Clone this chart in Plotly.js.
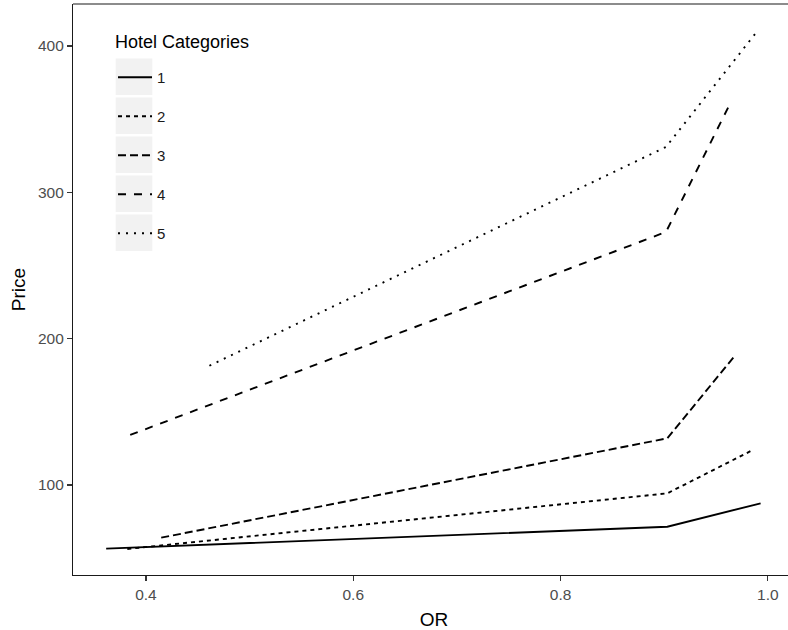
<!DOCTYPE html>
<html>
<head>
<meta charset="utf-8">
<script src="https://cdn.plot.ly/plotly-3.0.1.min.js"></script>
<style>
html,body{margin:0;padding:0;background:#fff;overflow:hidden;width:788px;height:630px;}
#wrap{width:788px;height:630px;overflow:hidden;}
#chart{width:795px;height:630px;}
</style>
</head>
<body>
<div id="wrap"><div id="chart"></div></div>
<script>
// Hotel categories (legend labels)
const categories = ["1", "2", "3", "4", "5"];
const legendTitle = "Hotel Categories";
// Occupancy rate (OR) values per category
const or1 = [0.3616, 0.903, 0.993];
const or2 = [0.382, 0.903, 0.984];
const or3 = [0.4147, 0.903, 0.968];
const or4 = [0.3848, 0.9017, 0.964];
const or5 = [0.4612, 0.9017, 0.990];
// Prices per category
const price1 = [56.5, 71.5, 87.5];
const price2 = [56.3, 94.3, 123.4];
const price3 = [64.0, 131.9, 188.2];
const price4 = [134.2, 272.9, 361.3];
const price5 = [181.5, 331.0, 410.3];
// Axis ticks
const xTicks = [0.4, 0.6, 0.8, 1.0];
const xTickLabels = ["0.4", "0.6", "0.8", "1.0"];
const yTicks = [100, 200, 300, 400];
const yTickLabels = ["100", "200", "300", "400"];

const xs = [or1, or2, or3, or4, or5];
const ys = [price1, price2, price3, price4, price5];
const dashes = ["solid", "4px,4px", "8px,4px", "8px,8px", "2px,6px"];

const traces = categories.map((c, i) => ({
  type: "scatter",
  mode: "lines",
  x: xs[i],
  y: ys[i],
  name: c,
  legendgroup: "g" + c,
  line: {color: "#000", width: 1.9, dash: dashes[i]},
  hoverinfo: "skip"
}));

// pixel -> paper helpers (plot area runs just past the right edge of the picture)
const FW = 795;
const L = 73, T = 4, W = FW - 73, H = 571;
const px = v => (v - L) / W;
const py = v => (T + H - v) / H;

const shapes = [
  {type: "line", xref: "paper", yref: "paper", x0: 0, x1: 1, y0: 1, y1: 1,
   line: {color: "#1a1a1a", width: 1.1}}
];
for (let i = 0; i < categories.length; i++) {
  const top = 58.5 + i * 39;
  shapes.push({
    type: "rect", xref: "paper", yref: "paper", layer: "below",
    x0: px(115.7), x1: px(152.3), y0: py(top + 36.5), y1: py(top),
    fillcolor: "#f2f2f2", line: {width: 0}
  });
}

const layout = {
  width: FW, height: 630,
  margin: {l: L, r: FW - L - W, t: T, b: 630 - T - H},
  paper_bgcolor: "#fff", plot_bgcolor: "#fff",
  font: {family: "Liberation Sans, Arial, sans-serif", color: "#000"},
  showlegend: true,
  legend: {
    x: px(113), y: py(61), xanchor: "left", yanchor: "top",
    bgcolor: "rgba(0,0,0,0)", borderwidth: 0,
    font: {size: 15, color: "#1a1a1a"},
    tracegroupgap: 16.5, traceorder: "grouped", itemwidth: 34
  },
  annotations: [
    {text: legendTitle, xref: "paper", yref: "paper", x: px(113), y: py(42),
     xanchor: "left", yanchor: "middle", showarrow: false,
     font: {size: 18, color: "#000"}}
  ],
  xaxis: {
    range: [0.3296, 0.3296 + W / 1036.5], tickvals: xTicks, ticktext: xTickLabels,
    showgrid: false, zeroline: false, showline: true, mirror: false,
    linecolor: "#1a1a1a", linewidth: 1.1,
    ticks: "outside", ticklen: 5, tickwidth: 1.1, tickcolor: "#333",
    tickfont: {size: 15.5, color: "#4d4d4d"},
    title: {text: "OR", font: {size: 19, color: "#000"}}
  },
  yaxis: {
    range: [38.5, 428.7], tickvals: yTicks, ticktext: yTickLabels,
    showgrid: false, zeroline: false, showline: true, mirror: false,
    linecolor: "#1a1a1a", linewidth: 1.1,
    ticks: "outside", ticklen: 5, tickwidth: 1.1, tickcolor: "#333",
    tickfont: {size: 15.5, color: "#4d4d4d"},
    title: {text: "Price", font: {size: 19, color: "#000"}}
  },
  shapes: shapes
};

Plotly.newPlot("chart", traces, layout, {staticPlot: true, displayModeBar: false});
</script>
</body>
</html>
